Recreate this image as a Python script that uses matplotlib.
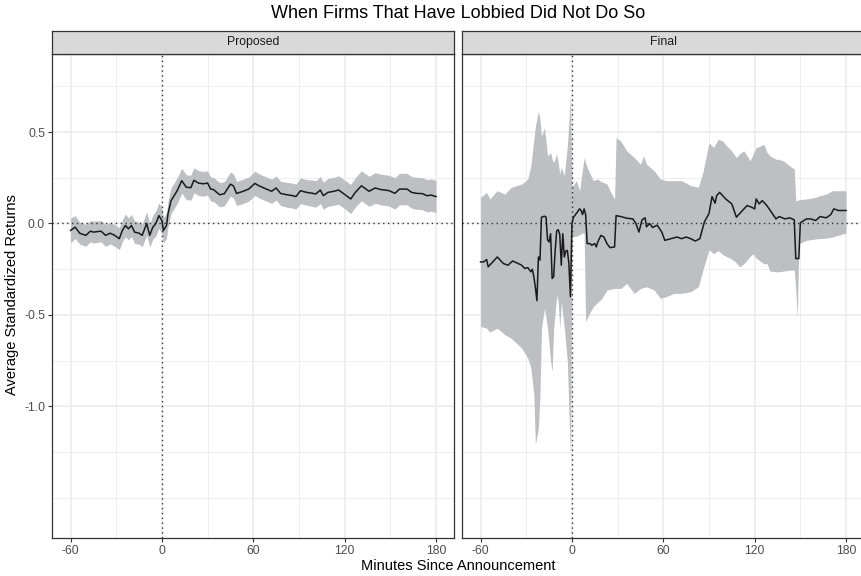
import numpy as np
import matplotlib
matplotlib.use("Agg")
import matplotlib.pyplot as plt

plt.rcParams['font.family'] = ['Liberation Sans', 'DejaVu Sans']

# ---- data ----
# Proposed rule: minute, mean standardized return, half-width of the band
prop_t = [-60, -57, -54, -50, -47, -45, -40, -37, -34, -31, -28, -26, -24, -22,
          -20, -18, -15, -13, -10, -8, -6, -4, -2, 0, 1, 3, 4, 6, 10, 13,
          16, 19, 21, 24, 27, 30, 32, 34, 36, 38, 41, 45, 47, 49, 53, 57,
          61, 64, 67, 72, 75, 78, 82, 86, 88, 91, 95, 99, 101, 104, 106, 109,
          113, 116, 119, 124, 127, 131, 136, 140, 144, 149, 153, 156, 161, 164,
          167, 171, 174, 177, 180]
prop_mean = [-0.038, -0.020, -0.053, -0.065, -0.042, -0.047, -0.042, -0.065, -0.053,
             -0.065, -0.083, -0.038, -0.011, -0.029, -0.011, -0.047, -0.053, -0.065,
             0.000, -0.065, -0.020, 0.000, 0.043, 0.016, -0.038, -0.011, 0.053,
             0.125, 0.179, 0.234, 0.198, 0.196, 0.236, 0.221, 0.217, 0.221, 0.188,
             0.185, 0.170, 0.157, 0.163, 0.215, 0.205, 0.164, 0.175, 0.188, 0.219,
             0.205, 0.194, 0.176, 0.194, 0.164, 0.157, 0.152, 0.147, 0.179, 0.170,
             0.165, 0.161, 0.183, 0.152, 0.170, 0.176, 0.183, 0.165, 0.134, 0.170,
             0.206, 0.176, 0.194, 0.185, 0.180, 0.165, 0.188, 0.188, 0.170, 0.165,
             0.163, 0.152, 0.155, 0.147]
prop_hw = [0.068, 0.062, 0.060, 0.060, 0.058, 0.060, 0.058, 0.060, 0.058,
           0.060, 0.060, 0.060, 0.062, 0.060, 0.060, 0.062, 0.060, 0.062,
           0.064, 0.064, 0.066, 0.068, 0.070, 0.070, 0.070, 0.070, 0.070,
           0.070, 0.070, 0.068, 0.068, 0.068, 0.068, 0.068, 0.068, 0.066, 0.066,
           0.066, 0.066, 0.066, 0.066, 0.066, 0.066, 0.066, 0.066, 0.066, 0.066,
           0.066, 0.066, 0.066, 0.066, 0.066, 0.068, 0.068, 0.068, 0.070, 0.070,
           0.072, 0.072, 0.074, 0.074, 0.076, 0.076, 0.078, 0.078, 0.080, 0.080,
           0.082, 0.082, 0.084, 0.084, 0.084, 0.086, 0.086, 0.086, 0.086, 0.088,
           0.088, 0.088, 0.088, 0.088]

# Final rule: mean line
final_t = [-60, -58, -56, -55, -52, -49, -45, -42, -39, -36, -33, -31, -29, -27,
           -26, -25, -24, -23, -22, -21, -20, -18, -17, -16, -15, -14, -13, -12,
           -11, -10, -9, -8, -7, -6, -5, -4, -3, -2, -1, 0, 1, 3, 5, 6, 7, 8, 9,
           10, 12, 13, 15, 16, 17, 19, 21, 23, 25, 28, 29, 32, 36, 40, 42, 44,
           46, 48, 49, 51, 53, 56, 59, 61, 65, 69, 72, 75, 78, 81, 84, 87, 90,
           92, 94, 95, 97, 99, 101, 105, 108, 111, 115, 118, 120, 121, 123, 125,
           128, 131, 134, 136, 140, 143, 146, 147, 149, 150, 154, 157, 160, 163,
           167, 170, 172, 175, 180]
final_mean = [-0.210, -0.210, -0.197, -0.237, -0.210, -0.183, -0.219, -0.228, -0.205,
              -0.216, -0.228, -0.246, -0.241, -0.264, -0.250, -0.292, -0.350, -0.422,
              -0.183, -0.200, 0.034, 0.040, 0.035, -0.090, -0.101, -0.056, -0.301,
              -0.290, -0.147, -0.040, -0.034, -0.060, -0.228, -0.056, -0.183, -0.150,
              -0.147, -0.219, -0.400, 0.000, 0.034, 0.056, 0.080, 0.071, 0.049, 0.080,
              0.049, -0.110, -0.110, -0.119, -0.110, -0.128, -0.101, -0.065, -0.074,
              -0.110, -0.132, -0.128, 0.043, 0.038, 0.029, 0.025, 0.000, -0.047, 0.020,
              0.031, -0.018, 0.000, -0.022, -0.009, -0.047, -0.092, -0.083, -0.074,
              -0.083, -0.074, -0.083, -0.096, -0.083, 0.009, 0.054, 0.147, 0.111, 0.152,
              0.170, 0.152, 0.134, 0.107, 0.034, 0.062, 0.098, 0.089, 0.080, 0.134,
              0.107, 0.125, 0.098, 0.062, 0.025, 0.038, 0.025, 0.031, 0.020, -0.192,
              -0.192, 0.004, 0.025, 0.025, 0.016, 0.038, 0.031, 0.049, 0.080, 0.071,
              0.071]

# Final rule: confidence band
band_t = [-60, -56, -54, -49, -44, -40, -33, -29, -27, -25, -24, -22, -21, -20, -18,
          -16, -14, -13, -12, -10, -9, -8, -7, -5, -3, -1, 0, 3, 5, 8, 9, 11, 14,
          17, 19, 23, 25, 28, 29, 32, 36, 41, 45, 47, 49, 54, 58, 62, 67, 72, 78,
          83, 86, 90, 93, 96, 99, 102, 104, 108, 110, 113, 117, 119, 121, 123,
          126, 128, 130, 134, 136, 139, 143, 146, 147, 148, 149, 154, 160, 162,
          167, 171, 180]
band_lo = [-0.563, -0.572, -0.594, -0.572, -0.609, -0.627, -0.681, -0.736, -0.790,
           -0.935, -1.207, -1.116, -0.935, -0.572, -0.464, -0.572, -0.754, -0.808,
           -0.572, -0.391, -0.428, -0.572, -0.428, -0.572, -0.754, -1.279, -0.070,
           -0.070, -0.060, -0.050, -0.536, -0.500, -0.455, -0.430, -0.418, -0.364,
           -0.360, -0.355, -0.355, -0.355, -0.328, -0.382, -0.355, -0.350, -0.346,
           -0.364, -0.409, -0.400, -0.382, -0.382, -0.373, -0.346, -0.255, -0.143,
           -0.165, -0.147, -0.170, -0.183, -0.190, -0.215, -0.237, -0.219, -0.180,
           -0.165, -0.190, -0.201, -0.220, -0.219, -0.260, -0.264, -0.264, -0.260,
           -0.255, -0.255, -0.364, -0.509, -0.110, -0.092, -0.085, -0.083, -0.080,
           -0.074, -0.052]
band_hi = [0.143, 0.170, 0.134, 0.179, 0.161, 0.197, 0.216, 0.243, 0.315, 0.460,
           0.533, 0.614, 0.569, 0.478, 0.524, 0.369, 0.388, 0.351, 0.333, 0.379,
           0.333, 0.270, 0.306, 0.261, 0.424, 0.696, 0.200, 0.234, 0.179, 0.360,
           0.330, 0.288, 0.234, 0.243, 0.230, 0.216, 0.179, 0.134, 0.469, 0.451,
           0.397, 0.360, 0.324, 0.370, 0.324, 0.288, 0.243, 0.234, 0.234, 0.234,
           0.207, 0.198, 0.279, 0.442, 0.415, 0.460, 0.451, 0.420, 0.406, 0.360,
           0.380, 0.397, 0.342, 0.380, 0.415, 0.420, 0.433, 0.390, 0.370, 0.351,
           0.350, 0.342, 0.315, 0.297, 0.125, 0.125, 0.130, 0.134, 0.143, 0.150,
           0.161, 0.179, 0.179]

panels = ["Proposed", "Final"]
x_breaks = [-60, 0, 60, 120, 180]
y_breaks = [-1.0, -0.5, 0.0, 0.5]
y_labels = ["-1.0", "-0.5", "0.0", "0.5"]

# ---- figure ----
W, H = 861, 576
fig = plt.figure(figsize=(W / 100, H / 100), dpi=100)

border = '#333333'
ribbon = '#BEBFC3'
panel_w = 402 / W
panel_b = 1 - 538 / H
panel_h = (538 - 53.7) / H
strip_b = 1 - 53.7 / H
strip_h = (53.7 - 31) / H
lefts = [52.3 / W, 462.3 / W]

p = np.array(prop_mean)
hw = np.array(prop_hw)
series = [
    (prop_t, prop_mean, prop_t, p - hw, p + hw),
    (final_t, final_mean, band_t, band_lo, band_hi),
]

for i, (name, (t, m, bt, lo, hi)) in enumerate(zip(panels, series)):
    ax = fig.add_axes([lefts[i], panel_b, panel_w, panel_h])
    ax.set_xlim(-72, 192)
    ax.set_ylim(-1.719, 0.928)

    # grid (major + minor)
    for v in [-30, 30, 90, 150]:
        ax.axvline(v, color='#EBEBEB', lw=0.6, zorder=0)
    for v in [-1.5, -1.25, -0.75, -0.25, 0.25, 0.75]:
        ax.axhline(v, color='#EBEBEB', lw=0.6, zorder=0)
    for v in x_breaks:
        ax.axvline(v, color='#EBEBEB', lw=1.1, zorder=0)
    for v in y_breaks:
        ax.axhline(v, color='#EBEBEB', lw=1.1, zorder=0)

    ax.fill_between(bt, lo, hi, color=ribbon, lw=0, zorder=1)
    ax.axhline(0, color='#333333', lw=1.0, ls=(0, (1, 2.5)), zorder=2)
    ax.axvline(0, color='#333333', lw=1.0, ls=(0, (1, 2.5)), zorder=2)
    ax.plot(t, m, color='#1A1A1A', lw=1.1, zorder=3)

    ax.set_xticks(x_breaks)
    ax.set_xticklabels([str(v) for v in x_breaks])
    ax.set_yticks(y_breaks)
    if i == 0:
        ax.set_yticklabels(y_labels)
    else:
        ax.set_yticklabels([])
    ax.tick_params(axis='both', colors=border, labelcolor='#4D4D4D',
                   labelsize=8.8, length=3.2, width=0.8, pad=2)
    if i == 1:
        ax.tick_params(axis='y', length=0)
    for s in ax.spines.values():
        s.set_color(border)
        s.set_linewidth(0.9)

    sx = fig.add_axes([lefts[i], strip_b, panel_w, strip_h])
    sx.set_facecolor('#D9D9D9')
    sx.set_xticks([])
    sx.set_yticks([])
    for s in sx.spines.values():
        s.set_color(border)
        s.set_linewidth(0.9)
    sx.text(0.5, 0.5, name, ha='center', va='center', fontsize=8.8,
            color='#1A1A1A', transform=sx.transAxes)

fig.text(458 / W, 1 - 14 / H, "When Firms That Have Lobbied Did Not Do So",
         ha='center', va='center', fontsize=13, color='black')
fig.text(458 / W, 1 - 566 / H, "Minutes Since Announcement",
         ha='center', va='center', fontsize=10.5, color='black')
fig.text(12 / W, 1 - 295 / H, "Average Standardized Returns",
         ha='center', va='center', rotation=90, fontsize=10.5, color='black')

fig.savefig("out.png", dpi=100)
